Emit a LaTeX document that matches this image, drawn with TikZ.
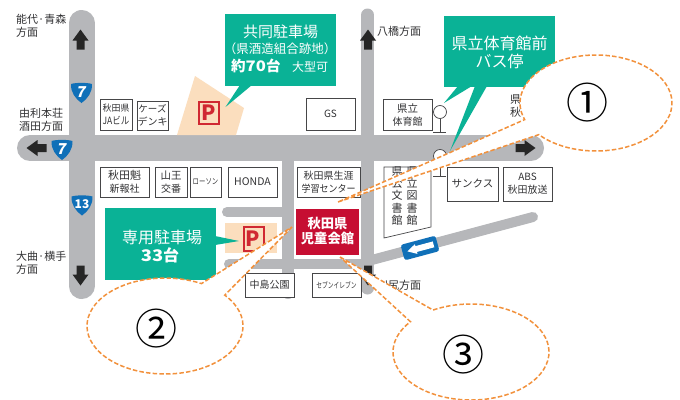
\documentclass[tikz,border=0pt]{standalone}
\usepackage{fontspec}
\setmainfont{Noto Sans CJK JP}
\definecolor{roadc}{RGB}{182,183,186}
\definecolor{teal1}{RGB}{10,178,150}
\definecolor{peach}{RGB}{251,222,190}
\definecolor{redlot}{RGB}{208,40,50}
\definecolor{crim}{RGB}{198,14,50}
\definecolor{shieldb}{RGB}{16,112,184}
\definecolor{dashc}{RGB}{242,145,60}
\definecolor{ink}{RGB}{50,50,52}
\definecolor{boxc}{RGB}{70,70,72}
\newcommand\fs[2]{\fontsize{#1}{#2}\selectfont}
\tikzset{
  road/.style={draw=roadc,line cap=round},
  mbox/.style={draw=boxc,line width=0.7pt,fill=white},
  lab/.style={text=ink,inner sep=0pt,align=center},
  leftlab/.style={text=ink,inner sep=0pt,align=left,anchor=west},
  wlab/.style={text=white,inner sep=0pt,align=center},
  tealf/.style={fill=teal1,draw=none},
  blk/.style={fill=black!85,draw=none},
  balloon/.style={draw=dashc,fill=white,line width=1.5pt,dash pattern=on 4.5pt off 2.2pt,line join=miter},
  num/.style={text=black,inner sep=0pt}
}
% name x1 y1 x2 y2 size text
\newcommand\bx[7]{\draw[mbox] (#2,#3) rectangle (#4,#5);
  \node[lab] (#1) at ({(#2+#4)/2},{(#3+#5)/2}) {\fs{#6}{#6}#7};}
% cx cy rx ry t1 t2 tipx tipy
\newcommand\ball[8]{\draw[balloon] (#7,#8) -- ({#1+#3*cos(#5)},{#2+#4*sin(#5)})
  arc[x radius=#3,y radius=#4,start angle=#5,end angle=#6] -- cycle;}
% up-arrow at centre, rotation
\newcommand\arw[3]{\begin{scope}[shift={(#1,#2)},rotate=#3]
  \fill[blk] (0,-10) -- (8,1) -- (4,1) -- (4,10) -- (-4,10) -- (-4,1) -- (-8,1) -- cycle;
\end{scope}}
\newcommand\shield[5]{\begin{scope}[shift={(#1,#2)}]
  \fill[shieldb] (-10.5,-9) .. controls (-6,-10.5) and (6,-10.5) .. (10.5,-9)
     .. controls (11,-1) and (6,6) .. (0,10) .. controls (-6,6) and (-11,-1) .. (-10.5,-9) -- cycle;
  \node[wlab,font=\bfseries\fs{#4}{#4},xslant=#5] (#3) at (0,-1) {#3};
\end{scope}}
\begin{document}
\begin{tikzpicture}[x=1pt,y=-1pt]
\useasboundingbox (0,0) rectangle (680,399);
\fill[white] (0,0) rectangle (680,399);
% roads
\draw[road,line width=26pt] (81.5,23) -- (81.5,286);
\draw[road,line width=26pt] (30,148) -- (531,148);
\draw[road,line width=13pt] (367.5,15) -- (367.5,288);
\draw[road,line width=12pt] (288,148) -- (288,293);
\draw[road,line width=10pt] (227,212) -- (288,212);
\draw[road,line width=10pt] (229,264) -- (367,264);
\draw[road,line width=10pt] (368,261) -- (533,217);
% parking lots
\fill[peach] (195,76) -- (244,108) -- (236,135) -- (177,135) -- cycle;
\draw[redlot,line width=1.2pt] (199,102) rectangle (219,124);
\node[text=redlot,inner sep=0pt,font=\bfseries\fs{21}{21}] (p1) at (209,113) {P};
\fill[peach] (225,223) rectangle (277,253);
\draw[redlot,line width=1.2pt] (244,227) rectangle (264,251);
\node[text=redlot,inner sep=0pt,font=\bfseries\fs{21}{21}] (p2) at (253,239) {P};
% map boxes
\bx{ja}{100}{99}{132}{130}{9}{秋田県\\[1pt]\scalebox{0.85}[1]{JAビル}}
\bx{kz}{137}{101}{168}{130}{9.5}{ケーズ\\[1pt]デンキ}
\bx{gs}{306}{98}{355}{130}{10}{GS}
\bx{tai}{383}{99}{432}{130}{10.5}{県立\\[1pt]体育館}
\bx{sak}{100}{167}{149}{197}{11}{秋田魁\\[1pt]新報社}
\bx{san}{155}{167}{187}{197}{10.5}{山王\\[1pt]交番}
\bx{law}{190}{167}{221}{197}{8}{\scalebox{0.8}[1]{ローソン}}
\bx{hon}{228}{167}{277}{197}{10.5}{HONDA}
\bx{gak}{297}{167}{360}{197}{10}{秋田県生涯\\[1pt]\scalebox{0.9}[1]{学習センター}}
\bx{sun}{447}{167}{498}{201}{10.5}{サンクス}
\bx{abs}{503}{167}{552}{201}{10}{ABS\\[1pt]秋田放送}
\bx{nak}{245}{273}{294}{297}{10}{中島公園}
\bx{sev}{312}{273}{361}{297}{8}{\scalebox{0.72}[1]{セブンイレブン}}
\draw[mbox] (384,167) -- (431,167) -- (431,227) -- (384,238) -- cycle;
\node[lab,font=\fs{11}{12.1}] (kobun) at (397,196) {県\\公\\文\\書\\館};
\node[lab,font=\fs{11}{12.1}] (tosho) at (412,196) {県\\立\\図\\書\\館};
% children's hall
\fill[crim] (296,209) rectangle (359,255);
\node[wlab,font=\bfseries\fs{13.3}{15}] (hall) at (327.5,231.5) {秋田県\\児童会館};
% bus stops
\draw[boxc,line width=0.7pt,fill=white] (440,118.5) -- (440,132) (433,132) -- (446,132);
\draw[boxc,line width=0.7pt,fill=white] (440,112) circle[radius=6.5];
\draw[boxc,line width=0.7pt] (440,161) -- (440,176) (433,176) -- (446,176);
\draw[boxc,line width=0.7pt,fill=white] (440,156) circle[radius=6.5];
% teal callouts
\fill[tealf] (225,14) rectangle (336,86);
\fill[tealf] (240,85) -- (225.5,107) -- (252,85) -- cycle;
\node[wlab,font=\fs{15}{15}] (t1) at (280.5,32) {共同駐車場};
\node[wlab,font=\fs{12.5}{12.5}] (t2) at (280,49) {（県酒造組合跡地）};
\node[wlab,font=\bfseries\fs{14.5}{15},anchor=west] (t3) at (231,66) {約\scalebox{1.15}[1]{70}台};
\node[wlab,font=\fs{12}{12},anchor=west] (t4) at (292,67) {大型可};
\fill[tealf] (444,16) rectangle (555,87);
\fill[tealf] (458,86) -- (444,103) -- (472,86) -- cycle;
\fill[tealf] (475,86) -- (450,151) -- (487,86) -- cycle;
\node[wlab,font=\fs{16}{18}] (t5) at (499.5,52) {県立体育館前\\バス停};
\fill[tealf] (105,208) rectangle (216,280);
\fill[tealf] (215,236) -- (239,241) -- (215,245) -- cycle;
\node[wlab,font=\fs{16}{16}] (t6) at (162,237) {専用駐車場};
\node[wlab,font=\bfseries\fs{16}{16}] (t7) at (160,255) {\scalebox{1.15}[1]{33}台};
% arrows
\arw{80.5}{39.5}{0}
\arw{36.5}{148}{90}
\arw{80.5}{275.5}{180}
\arw{525.5}{148}{-90}
\arw{368}{39.5}{0}
\arw{368}{275.5}{180}
% shields
\shield{81.5}{93}{7}{15}{0.2}
\shield{62}{150}{7}{15}{0.2}
\shield{82}{205.5}{13}{12}{0}
% one-way sign
\begin{scope}[shift={(420,248)},rotate=15]
  \fill[shieldb,rounded corners=2.5pt] (-18,-8) rectangle (18,8);
  \fill[white] (-13,0) -- (-4,-5) -- (-4,-3) -- (14,-3) -- (14,3) -- (-4,3) -- (-4,5) -- cycle;
\end{scope}
% place labels
\node[leftlab,font=\fs{11}{12.5}] (a1) at (16,26) {能代·青森\\方面};
\node[leftlab,font=\fs{11}{13}] (a2) at (19,119.5) {由利本荘\\酒田方面};
\node[leftlab,font=\fs{11}{12.5}] (a3) at (16,263) {大曲·横手\\方面};
\node[leftlab,font=\fs{11}{11}] (a4) at (377,31) {八橋方面};
\node[leftlab,font=\fs{11}{11}] (a5) at (377,285) {川尻方面};
\node[leftlab,font=\fs{11}{13}] (a6) at (510,106.5) {県\\秋};
% balloons
\ball{596}{103}{76}{48}{138.8}{-200.2}{338}{202}
\ball{165}{326}{78}{48}{-40}{297.9}{292}{227}
\ball{471}{352}{78}{48}{240.9}{579.1}{340}{257}
\node[num,font=\fs{42}{42}] (n1) at (587,103) {①};
\node[num,font=\fs{42}{42}] (n2) at (156,329) {②};
\node[num,font=\fs{42}{42}] (n3) at (463,355) {③};
\end{tikzpicture}
\end{document}
